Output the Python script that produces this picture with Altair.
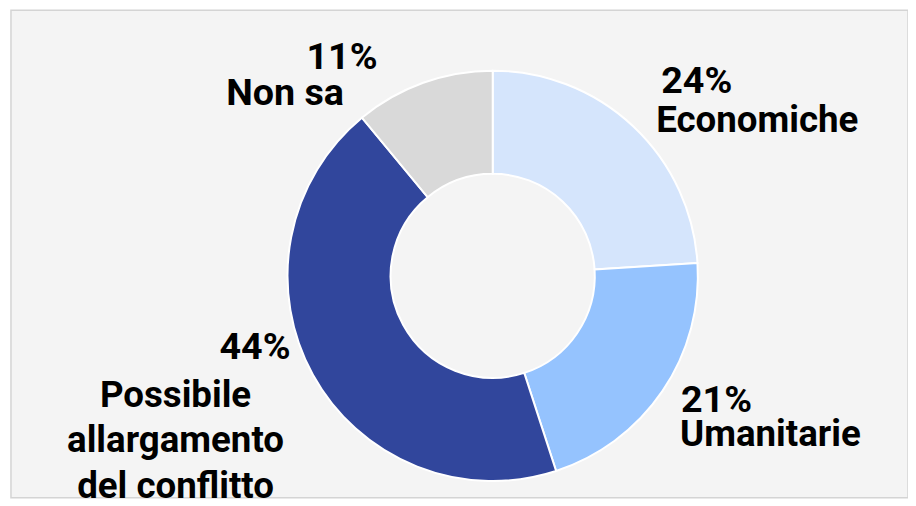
import altair as alt
import pandas as pd

categories = ["Economiche", "Umanitarie", "Possibile allargamento del conflitto", "Non sa"]
values = [24, 21, 44, 11]
colors = ["#d5e5fc", "#95c3fe", "#31469c", "#d9d9d9"]

df = pd.DataFrame({"cat": categories, "val": values, "ord": list(range(len(categories)))})

donut = alt.Chart(df).mark_arc(
    innerRadius=103, outerRadius=207, stroke="white", strokeWidth=2
).encode(
    theta=alt.Theta("val:Q", stack=True),
    order=alt.Order("ord:Q"),
    color=alt.Color("cat:N", scale=alt.Scale(domain=categories, range=colors), legend=None),
    x=alt.value(486),
    y=alt.value(268),
)

FONT = "Roboto"

def label(text, x, y, align, size):
    return alt.Chart(pd.DataFrame({"t": [text]})).mark_text(
        font=FONT, fontWeight="bold", fontSize=size, align=align,
        baseline="alphabetic", color="#000000"
    ).encode(text="t:N", x=alt.value(x), y=alt.value(y))

pct = [f"{v}%" for v in values]

layers = [
    donut,
    label(pct[3], 334, 59, "center", 38),
    label("Non sa", 336, 96, "right", 38),
    label(pct[0], 656, 84, "left", 38),
    label("Economiche", 651, 123, "left", 37),
    label(pct[1], 676, 405, "left", 38),
    label("Umanitarie", 675, 440, "left", 37),
    label(pct[2], 282, 352, "right", 38),
    alt.Chart(pd.DataFrame({"t": [["Possibile", "allargamento", "del conflitto"]]})).mark_text(
        font=FONT, fontWeight="bold", fontSize=37, align="center",
        baseline="alphabetic", lineHeight=46, color="#000000"
    ).encode(text="t", x=alt.value(166), y=alt.value(400)),
]

chart = alt.layer(*layers).properties(
    width=905, height=492,
    padding={"left": 3, "top": 0, "right": 0, "bottom": 6},
    autosize=alt.AutoSizeParams(type="none"),
    background="white",
).configure_view(
    fill="#f4f4f4", stroke="#d4d4d4", strokeWidth=1.5
)

chart.save("out.html", embed_options={"renderer": "svg", "actions": False})
